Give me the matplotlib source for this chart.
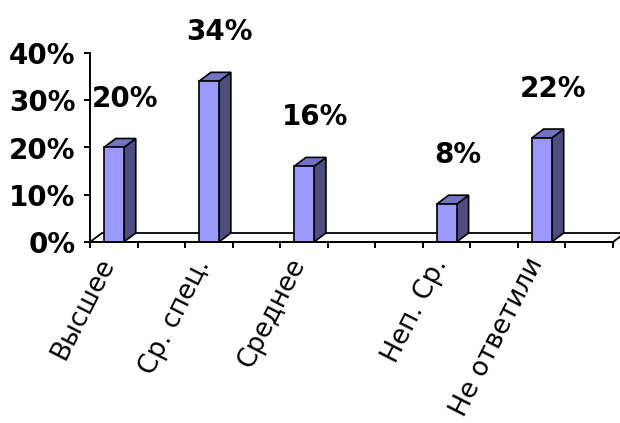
import matplotlib
matplotlib.use("Agg")
import matplotlib.pyplot as plt
from matplotlib.patches import Polygon, Rectangle
from matplotlib.ticker import FixedLocator
from matplotlib.transforms import offset_copy

# ---- data ----
categories = ['Высшее', '', 'Ср. спец.', '', 'Среднее', '', '', 'Неп. Ср.', '', 'Не ответили', '']
values = [20, None, 34, None, 16, None, None, 8, None, 22, None]
y_ticks = [0, 10, 20, 30, 40]
y_tick_labels = ['0%', '10%', '20%', '30%', '40%']

FRONT = '#9999ff'
TOP = '#7373c6'
SIDE = '#4d4d80'

W, H = 620, 423
fig = plt.figure(figsize=(W / 100, H / 100), dpi=100)
ax = fig.add_axes([90 / W, (H - 242) / H, (613 - 90) / W, (242 - 53) / H])
n = len(categories)
ax.set_xlim(0, n)
ax.set_ylim(0, 40)

# pixel -> data conversions
px_x = (613 - 90) / n
px_y = (242 - 53) / 40
DX = 12 / px_x
DY = 9 / px_y
BW = 20 / px_x

# floor
floor = Polygon([(0, 0), (n, 0), (n + DX, DY), (DX, DY)], closed=True,
                facecolor='white', edgecolor='black', lw=1.3, zorder=1, clip_on=False)
ax.add_patch(floor)

# bars
for i, v in enumerate(values):
    if v is None:
        continue
    c = i + 0.5
    x0, x1 = c - BW / 2, c + BW / 2
    side = Polygon([(x1, 0), (x1 + DX, DY), (x1 + DX, v + DY), (x1, v)], closed=True,
                   facecolor=SIDE, edgecolor='black', lw=1.2, zorder=3, clip_on=False)
    top = Polygon([(x0, v), (x1, v), (x1 + DX, v + DY), (x0 + DX, v + DY)], closed=True,
                  facecolor=TOP, edgecolor='black', lw=1.2, zorder=3, clip_on=False)
    front = Rectangle((x0, 0), BW, v, facecolor=FRONT, edgecolor='black', lw=1.2,
                      zorder=4, clip_on=False)
    ax.add_patch(side)
    ax.add_patch(top)
    ax.add_patch(front)
    ax.annotate(f'{v}%', xy=(c, v), xytext=(11, 41), textcoords='offset pixels',
                ha='center', va='baseline', fontsize=20, fontweight='bold', zorder=5,
                annotation_clip=False)

# spines
for s in ['top', 'right']:
    ax.spines[s].set_visible(False)
for s in ['left', 'bottom']:
    ax.spines[s].set_linewidth(1.4)
    ax.spines[s].set_zorder(6)

# y axis
ax.set_yticks(y_ticks)
ax.set_yticklabels(y_tick_labels, fontsize=20, fontweight='bold')
ax.tick_params(axis='y', length=4.5, width=1.4, pad=6, direction='out')

# x axis: ticks between categories, labels drawn as rotated text
ax.set_xticks([])
ax.xaxis.set_minor_locator(FixedLocator(list(range(n + 1))))
ax.tick_params(axis='x', which='minor', length=4.5, width=1.4, direction='out')
lab_tr = offset_copy(ax.get_xaxis_transform(), fig=fig, x=1, y=-21, units='dots')
for i, lab in enumerate(categories):
    if not lab:
        continue
    ax.text(i + 0.5, 0, lab, transform=lab_tr, fontsize=19, rotation=63,
            ha='right', va='baseline', rotation_mode='anchor', clip_on=False)

ax.patch.set_visible(False)
fig.savefig('out.png', dpi=100, facecolor='white')
